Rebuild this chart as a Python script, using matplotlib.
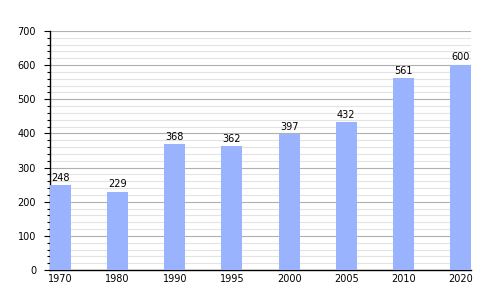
import matplotlib
matplotlib.use('Agg')
import matplotlib.pyplot as plt
from matplotlib.ticker import MultipleLocator

# Data
years = ['1970', '1980', '1990', '1995', '2000', '2005', '2010', '2020']
values = [248, 229, 368, 362, 397, 432, 561, 600]

fig = plt.figure(figsize=(5, 3), dpi=100)
ax = fig.add_axes([0.1, 0.1, 0.842, 0.797])

width = 0.368
pos = list(range(len(years)))
ax.bar(pos, values, width=width, align='edge', color='#99b3ff', zorder=3)

for x, v in zip(pos, values):
    ax.text(x + width / 2, v + 8, str(v), ha='center', va='bottom', fontsize=7, zorder=4)

ax.set_xlim(0, len(years) - 1 + width)
ax.set_ylim(0, 700)
ax.set_xticks([p + width / 2 for p in pos])
ax.set_xticklabels(years, fontsize=7)
ax.tick_params(axis='x', length=0, pad=3)

ax.yaxis.set_major_locator(MultipleLocator(100))
ax.yaxis.set_minor_locator(MultipleLocator(20))
ax.tick_params(axis='y', which='major', length=4, width=0.8, labelsize=7, pad=6)
ax.tick_params(axis='y', which='minor', length=2, width=0.8)

ax.grid(axis='y', which='major', color='#b0b0b0', linewidth=0.8, zorder=0)
ax.grid(axis='y', which='minor', color='#e3e3e3', linewidth=0.8, zorder=0)
ax.set_axisbelow(True)

for s in ['top', 'right']:
    ax.spines[s].set_visible(False)
ax.spines['left'].set_linewidth(1)
ax.spines['bottom'].set_linewidth(1)

plt.savefig('out.png', dpi=100)
